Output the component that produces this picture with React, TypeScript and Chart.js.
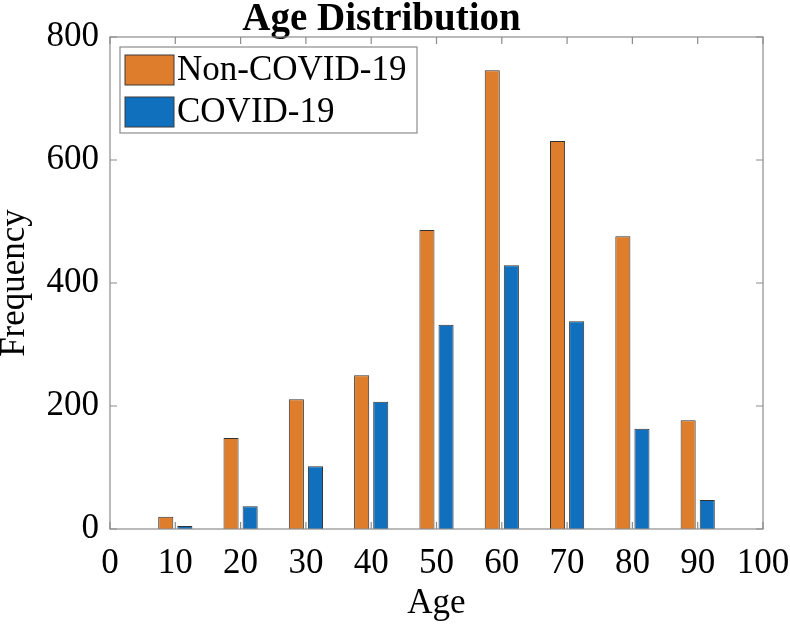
import { useEffect, useRef } from "react";
import { Chart, registerables } from "chart.js";

Chart.register(...registerables);

const ages = [10, 20, 30, 40, 50, 60, 70, 80, 90];
const nonCovid = [20, 148, 211, 250, 486, 746, 631, 476, 177];
const covid = [5, 37, 102, 207, 332, 429, 338, 163, 47];
const seriesLabels = ["Non-COVID-19", "COVID-19"];
const seriesColors = ["#DE7D2C", "#1170BE"];
const titleText = "Age Distribution";
const xTitle = "Age";
const yTitle = "Frequency";

const FONT = "'Liberation Serif', 'Times New Roman', serif";

const framePlugin = {
  id: "frame",
  afterDatasetsDraw(chart: any) {
    const { ctx, chartArea, scales } = chart;
    const { left, right, top, bottom } = chartArea;
    ctx.save();
    ctx.strokeStyle = "#8c8c8c";
    ctx.lineWidth = 1.2;
    ctx.strokeRect(left, top, right - left, bottom - top);
    const tl = 7;
    ctx.beginPath();
    scales.x.ticks.forEach((t: any) => {
      const px = scales.x.getPixelForValue(t.value);
      ctx.moveTo(px, bottom);
      ctx.lineTo(px, bottom - tl);
      ctx.moveTo(px, top);
      ctx.lineTo(px, top + tl);
    });
    scales.y.ticks.forEach((t: any) => {
      const py = scales.y.getPixelForValue(t.value);
      ctx.moveTo(left, py);
      ctx.lineTo(left + tl, py);
      ctx.moveTo(right, py);
      ctx.lineTo(right - tl, py);
    });
    ctx.stroke();
    ctx.restore();
  },
};

const boxLegendPlugin = {
  id: "boxLegend",
  afterDraw(chart: any) {
    const { ctx, chartArea } = chart;
    const bx = chartArea.left + 10;
    const by = chartArea.top + 10;
    const bw = 297;
    const bh = 86;
    ctx.save();
    ctx.fillStyle = "#ffffff";
    ctx.fillRect(bx, by, bw, bh);
    ctx.strokeStyle = "#8c8c8c";
    ctx.lineWidth = 1.2;
    ctx.strokeRect(bx, by, bw, bh);
    ctx.font = `35px ${FONT}`;
    ctx.textBaseline = "middle";
    ctx.textAlign = "left";
    chart.data.datasets.forEach((ds: any, i: number) => {
      const sy = by + 8 + i * 42;
      ctx.fillStyle = ds.backgroundColor;
      ctx.fillRect(bx + 5, sy, 49, 30);
      ctx.strokeStyle = "#3a3a3a";
      ctx.lineWidth = 1;
      ctx.strokeRect(bx + 5, sy, 49, 30);
      ctx.fillStyle = "#000";
      ctx.fillText(ds.label, bx + 57, sy + 16);
    });
    ctx.restore();
  },
};

export default function App() {
  const canvasRef = useRef<HTMLCanvasElement | null>(null);

  useEffect(() => {
    if (!canvasRef.current) return;
    const chart = new Chart(canvasRef.current, {
      type: "bar",
      data: {
        datasets: [
          {
            label: seriesLabels[0],
            data: ages.map((a, i) => ({ x: a, y: nonCovid[i] })),
            backgroundColor: seriesColors[0],
            borderColor: "#333333",
            borderWidth: 1,
            categoryPercentage: 0.585,
            barPercentage: 0.79,
          },
          {
            label: seriesLabels[1],
            data: ages.map((a, i) => ({ x: a, y: covid[i] })),
            backgroundColor: seriesColors[1],
            borderColor: "#333333",
            borderWidth: 1,
            categoryPercentage: 0.585,
            barPercentage: 0.79,
          },
        ],
      },
      options: {
        animation: false,
        responsive: false,
        maintainAspectRatio: false,
        layout: { padding: { left: 0, right: 27, top: 0, bottom: 0 } },
        plugins: {
          legend: { display: false },
          tooltip: { enabled: false },
          title: {
            display: true,
            text: titleText,
            color: "#000",
            font: { family: FONT, size: 39, weight: "bold", lineHeight: 30 / 39 },
            padding: { top: 5, bottom: 2 },
          },
        },
        scales: {
          x: {
            type: "linear",
            min: 0,
            max: 100,
            offset: false,
            grid: { display: false, drawTicks: false },
            border: { display: false },
            ticks: {
              stepSize: 10,
              autoSkip: false,
              maxRotation: 0,
              color: "#000",
              padding: 14,
              font: { family: FONT, size: 35 },
            },
            title: {
              display: true,
              text: xTitle,
              color: "#000",
              font: { family: FONT, size: 35 },
              padding: { top: 0, bottom: 0 },
            },
            afterFit: (s: any) => {
              s.height = 96;
              s.paddingLeft = 0;
              s.paddingRight = 0;
            },
          },
          y: {
            min: 0,
            max: 800,
            grid: { display: false, drawTicks: false },
            border: { display: false },
            ticks: {
              stepSize: 200,
              color: "#000",
              padding: 11,
              font: { family: FONT, size: 35 },
            },
            title: {
              display: true,
              text: yTitle,
              color: "#000",
              font: { family: FONT, size: 35, lineHeight: 0.86 },
              padding: 0,
            },
            afterFit: (s: any) => {
              s.width = 110;
              s.paddingTop = 0;
              s.paddingBottom = 0;
            },
          },
        },
      },
      plugins: [framePlugin, boxLegendPlugin],
    });
    return () => chart.destroy();
  }, []);

  return (
    <div style={{ position: "absolute", left: 0, top: 0, width: 790, height: 625, background: "#fff" }}>
      <canvas ref={canvasRef} width={790} height={625} style={{ width: 790, height: 625 }} />
    </div>
  );
}
